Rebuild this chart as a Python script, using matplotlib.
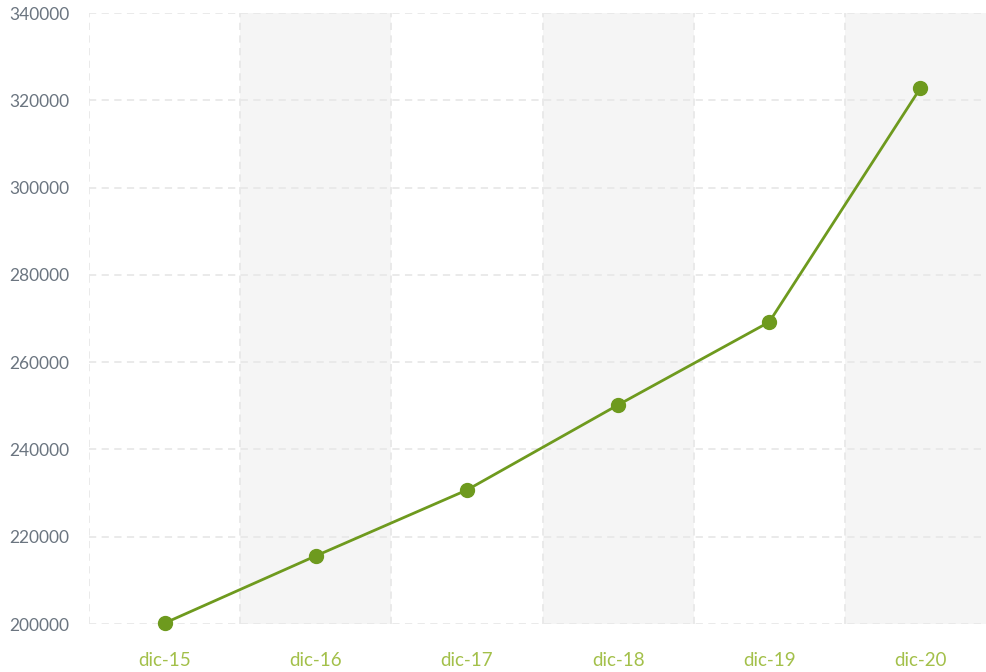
import matplotlib.pyplot as plt
import numpy as np

labels = ['dic-15', 'dic-16', 'dic-17', 'dic-18', 'dic-19', 'dic-20']
values = [200200, 215600, 230700, 250200, 269200, 322800]
yticks = [200000, 220000, 240000, 260000, 280000, 300000, 320000, 340000]

plt.rcParams['font.family'] = ['Lato', 'DejaVu Sans']

fig = plt.figure(figsize=(9.86, 6.72), dpi=100)
ax = fig.add_axes([89/986, 48/672, 907/986, 611/672])

x = np.arange(len(labels))

# alternate column shading
for i in x:
    if i % 2 == 1:
        ax.axvspan(i - 0.5, i + 0.5, color='#f5f5f5', zorder=0, lw=0)

grid_kw = dict(color='#e8e8e8', lw=1.3, ls=(0, (4, 3)), zorder=1)
for yv in yticks:
    ax.axhline(yv, **grid_kw)
for b in np.arange(-0.5, len(labels) + 0.5):
    ax.axvline(b, **grid_kw)

ax.plot(x, values, color='#6e9a1e', lw=2, marker='o', ms=10, zorder=3,
        clip_on=False)

ax.set_xlim(-0.5, len(labels) - 0.5)
ax.set_ylim(200000, 340000)
ax.set_yticks(yticks)
ax.set_yticklabels([str(v) for v in yticks])
ax.set_xticks(x)
ax.set_xticklabels(labels)

for s in ax.spines.values():
    s.set_visible(False)
ax.tick_params(axis='y', length=0, pad=14, labelsize=12.5, labelcolor='#6b7580')
ax.tick_params(axis='x', length=0, pad=20, labelsize=13.5, labelcolor='#a3c04a')

fig.savefig('out.png', dpi=100)
